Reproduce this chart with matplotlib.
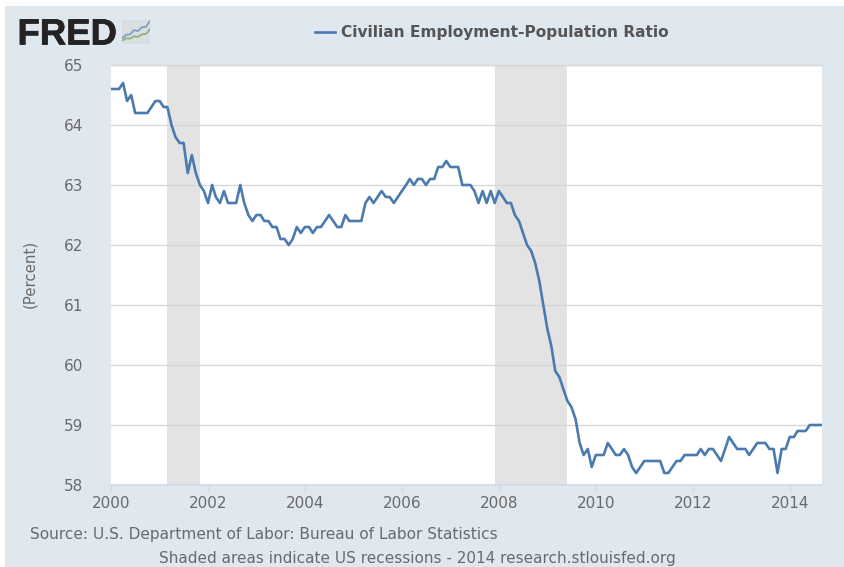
import matplotlib
matplotlib.use("Agg")
import matplotlib.pyplot as plt
import matplotlib.dates as mdates
import matplotlib.patheffects as pe
import pandas as pd
from matplotlib.patches import Rectangle

# ---- data ----
ratio = [
    64.6, 64.6, 64.6, 64.7, 64.4, 64.5, 64.2, 64.2, 64.2, 64.2, 64.3, 64.4,
    64.4, 64.3, 64.3, 64.0, 63.8, 63.7, 63.7, 63.2, 63.5, 63.2, 63.0, 62.9,
    62.7, 63.0, 62.8, 62.7, 62.9, 62.7, 62.7, 62.7, 63.0, 62.7, 62.5, 62.4,
    62.5, 62.5, 62.4, 62.4, 62.3, 62.3, 62.1, 62.1, 62.0, 62.1, 62.3, 62.2,
    62.3, 62.3, 62.2, 62.3, 62.3, 62.4, 62.5, 62.4, 62.3, 62.3, 62.5, 62.4,
    62.4, 62.4, 62.4, 62.7, 62.8, 62.7, 62.8, 62.9, 62.8, 62.8, 62.7, 62.8,
    62.9, 63.0, 63.1, 63.0, 63.1, 63.1, 63.0, 63.1, 63.1, 63.3, 63.3, 63.4,
    63.3, 63.3, 63.3, 63.0, 63.0, 63.0, 62.9, 62.7, 62.9, 62.7, 62.9, 62.7,
    62.9, 62.8, 62.7, 62.7, 62.5, 62.4, 62.2, 62.0, 61.9, 61.7, 61.4, 61.0,
    60.6, 60.3, 59.9, 59.8, 59.6, 59.4, 59.3, 59.1, 58.7, 58.5, 58.6, 58.3,
    58.5, 58.5, 58.5, 58.7, 58.6, 58.5, 58.5, 58.6, 58.5, 58.3, 58.2, 58.3,
    58.4, 58.4, 58.4, 58.4, 58.4, 58.2, 58.2, 58.3, 58.4, 58.4, 58.5, 58.5,
    58.5, 58.5, 58.6, 58.5, 58.6, 58.6, 58.5, 58.4, 58.6, 58.8, 58.7, 58.6,
    58.6, 58.6, 58.5, 58.6, 58.7, 58.7, 58.7, 58.6, 58.6, 58.2, 58.6, 58.6,
    58.8, 58.8, 58.9, 58.9, 58.9, 59.0, 59.0, 59.0, 59.0,
]
months = pd.date_range("2000-01-01", periods=len(ratio), freq="MS")
recessions = [("2001-03-01", "2001-11-01"), ("2007-12-01", "2009-06-01")]
y_ticks = [58, 59, 60, 61, 62, 63, 64, 65]
x_tick_years = [2000, 2002, 2004, 2006, 2008, 2010, 2012, 2014]
legend_label = "Civilian Employment-Population Ratio"
y_label = "(Percent)"
source_text = "Source: U.S. Department of Labor: Bureau of Labor Statistics"
shade_text = "Shaded areas indicate US recessions - 2014 research.stlouisfed.org"
logo_blue = [1.2, 1.9, 2.0, 2.9, 2.7, 3.5, 3.6, 4.8]
logo_green = [0.7, 1.2, 1.1, 1.6, 1.5, 2.0, 2.1, 3.1]

W, H = 844, 567
PANEL = "#dfe7ef"
LINE = "#4a7ab0"
TEXT = "#6a6a6a"

fig = plt.figure(figsize=(W / 100, H / 100), dpi=100, facecolor="white")
fig.patches.append(Rectangle((5 / W, 0), 1, 1 - 6 / H, transform=fig.transFigure,
                             facecolor=PANEL, edgecolor="none", zorder=-5))

ax = fig.add_axes([111 / W, 1 - 485 / H, (822 - 111) / W, (485 - 65) / H])
ax.set_facecolor("white")
ax.plot(months, ratio, color=LINE, lw=1.9, solid_joinstyle="round", zorder=3)
for start, end in recessions:
    ax.axvspan(pd.Timestamp(start), pd.Timestamp(end), color="#e3e3e3", lw=0, zorder=1)

ax.set_xlim(pd.Timestamp("2000-01-01"), pd.Timestamp("2014-09-01"))
ax.set_ylim(58, 65)
ax.set_yticks(y_ticks)
ax.set_xticks([pd.Timestamp(f"{y}-01-01") for y in x_tick_years])
ax.xaxis.set_major_formatter(mdates.DateFormatter("%Y"))
ax.grid(axis="y", color="#d6d6d6", lw=0.9, zorder=2)
ax.set_axisbelow(False)
for name in ("left", "right"):
    ax.spines[name].set_visible(False)
ax.spines["top"].set_color("#d3dae0")
ax.spines["top"].set_linewidth(1.0)
ax.spines["bottom"].set_color("#cfdcea")
ax.spines["bottom"].set_linewidth(1.2)
ax.tick_params(axis="x", length=5, width=1, color="#cfdcea", pad=3, labelsize=11, labelcolor=TEXT)
ax.tick_params(axis="y", length=0, labelsize=11, labelcolor=TEXT)
for tick in ax.yaxis.get_major_ticks():
    tick.set_pad(20)

fig.text(30 / W, 1 - 274 / H, y_label, rotation=90, ha="center", va="center",
         fontsize=10.8, color=TEXT)
fig.text(30 / W, 1 - 535 / H, source_text, ha="left", va="center", fontsize=11.1, color=TEXT)
fig.text(417 / W, 1 - 559 / H, shade_text, ha="center", va="center", fontsize=11, color=TEXT)

# legend
fig.add_artist(plt.Line2D([315 / W, 335 / W], [1 - 32 / H, 1 - 32 / H], color=LINE, lw=1.9))
fig.text(341 / W, 1 - 32 / H, legend_label, ha="left", va="center", fontsize=11.1,
         fontweight="bold", color="#555555")

# logo
fig.text(17.5 / W, 1 - 44.5 / H, "FRED", ha="left", va="baseline", fontsize=26.3,
         family="Liberation Sans", fontweight="bold", color="#242222",
         path_effects=[pe.withStroke(linewidth=0.5, foreground="#242222")])
icon = fig.add_axes([122 / W, 1 - 44 / H, 28 / W, 24 / H])
icon.set_facecolor("#d9dfe1")
icon.plot(logo_blue, color="#7f9fc0", lw=1.3)
icon.plot(logo_green, color="#8fb07a", lw=1.3)
icon.set_xlim(0, len(logo_blue) - 1)
icon.set_ylim(0, 5)
icon.set_xticks([])
icon.set_yticks([])
for spine in icon.spines.values():
    spine.set_visible(False)

fig.savefig("out.png", dpi=100, facecolor="white")
